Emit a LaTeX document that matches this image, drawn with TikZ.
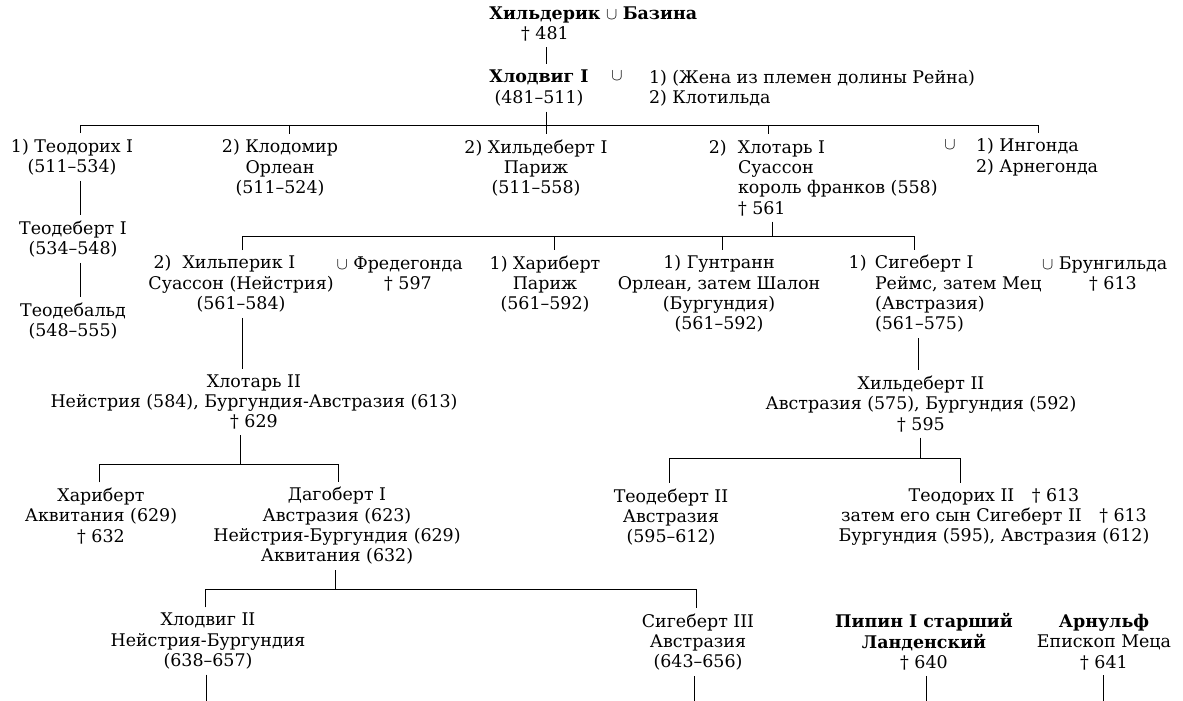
\documentclass[tikz,border=0pt]{standalone}
\usepackage{fontspec}
\setmainfont{DejaVu Serif}

\begin{document}
\begin{tikzpicture}[x=0.025cm,y=-0.025cm,
  every node/.style={font=\fontsize{12.4}{14.5}\selectfont,inner sep=0pt,outer xsep=0pt,outer ysep=4pt},
  person/.style={align=center},
  family/.style={align=left,anchor=west},
  link/.style={line width=0.7pt}]

\useasboundingbox (0,0) rectangle (1183,701);

% Хильдерик, Хлодвиг I
\node[person] (childeric) at (545,24) {\textbf{Хильдерик}\\† 481};
\node[anchor=west] (basina) at (606,13) {$\cup$ \textbf{Базина}};
\node[person] (clovis1) at (539,88) {\textbf{Хлодвиг I}\\(481–511)};
\node (u1) at (617,76) {$\cup$};
\node[family] (wives1) at (649,88) {1) (Жена из племен долины Рейна)\\2) Клотильда};

% сыновья Хлодвига I
\node[person] (theuderic1) at (72,157) {1) Теодорих I\\(511–534)};
\node[person] (chlodomer) at (280,168) {2) Клодомир\\Орлеан\\(511–524)};
\node[person] (childebert1) at (536,168) {2) Хильдеберт I\\Париж\\(511–558)};
\node[family] (chlothar1) at (738,178) {\llap{2)\hspace{8pt}}Хлотарь I\\Суассон\\король франков (558)\\† 561};
\node (u2) at (950,145) {$\cup$};
\node[family] (wives2) at (976,157) {1) Ингонда\\2) Арнегонда};

\node[person] (theudebert1) at (73,239) {Теодеберт I\\(534–548)};
\node[person] (theudebald) at (73,321) {Теодебальд\\(548–555)};

% сыновья Хлотаря I
\node[person] (chilperic) at (241,284) {2)\ \ Хильперик I\hphantom{000}\\Суассон (Нейстрия)\\(561–584)};
\node[person] (fredegund) at (408,274) {\llap{$\cup$\ }Фредегонда\\† 597};
\node[person] (charibert) at (545,284) {1) Хариберт\\Париж\\(561–592)};
\node[person] (guntram) at (719,294) {1) Гунтранн\\Орлеан, затем Шалон\\(Бургундия)\\(561–592)};
\node[family] (sigebert1) at (875,294) {\llap{1)\hspace{6pt}}Сигеберт I\\Реймс, затем Мец\\(Австразия)\\(561–575)};
\node[person] (brunhild) at (1113,274) {\llap{$\cup$\ }Брунгильда\\† 613};

% внуки
\node[person] (chlothar2) at (254,402) {Хлотарь II\\Нейстрия (584), Бургундия-Австразия (613)\\† 629};
\node[person] (childebert2) at (921,404) {Хильдеберт II\\Австразия (575), Бургундия (592)\\† 595};

\node[person] (charibert2) at (101,516) {Хариберт\\Аквитания (629)\\† 632};
\node[person] (dagobert) at (337,526) {Дагоберт I\\Австразия (623)\\Нейстрия-Бургундия (629)\\Аквитания (632)};
\node[person] (theudebert2) at (671,517) {Теодеберт II\\Австразия\\(595–612)};
\node[person] (theuderic2) at (994,517) {Теодорих II\quad † 613\\затем его сын Сигеберт II\quad † 613\\Бургундия (595), Австразия (612)};

\node[person] (clovis2) at (208,641) {Хлодвиг II\\Нейстрия-Бургундия\\(638–657)};
\node[person] (sigebert3) at (698,642) {Сигеберт III\\Австразия\\(643–656)};
\node[person] (pippin) at (924,642) {\textbf{Пипин I старший}\\\textbf{Ланденский}\\† 640};
\node[person] (arnulf) at (1104,642) {\textbf{Арнульф}\\Епископ Меца\\† 641};

% линии
\coordinate (j1) at (546,125);
\coordinate (b1a) at (80,125);
\coordinate (b1b) at (1038,125);
\coordinate (k1a) at (289,125);
\coordinate (k1b) at (768,125);
\draw[link] (childeric.south -| j1) -- (clovis1.north -| j1);
\draw[link] (clovis1.south -| j1) -- (childebert1.north -| j1);
\draw[link] (theuderic1.north -| b1a) -- (b1a) -- (b1b) -- (wives2.north -| b1b);
\draw[link] (k1a) -- (chlodomer.north -| k1a);
\draw[link] (k1b) -- (chlothar1.north -| k1b);
\draw[link] (theuderic1.south -| b1a) -- (theudebert1.north -| b1a);
\draw[link] (theudebert1.south -| b1a) -- (theudebald.north -| b1a);

\coordinate (j2) at (772,236);
\coordinate (b2a) at (242,236);
\coordinate (b2b) at (914,236);
\coordinate (k2a) at (554,236);
\coordinate (k2b) at (722,236);
\coordinate (s1) at (918,350);
\draw[link] (chlothar1.south -| j2) -- (j2);
\draw[link] (chilperic.north -| b2a) -- (b2a) -- (b2b) -- (sigebert1.north -| b2b);
\draw[link] (k2a) -- (charibert.north -| k2a);
\draw[link] (k2b) -- (guntram.north -| k2b);
\draw[link] (chilperic.south -| b2a) -- (chlothar2.north -| b2a);
\draw[link] (sigebert1.south -| s1) -- (childebert2.north -| s1);

\coordinate (j3) at (240,464);
\coordinate (b3a) at (99,464);
\coordinate (b3b) at (338,464);
\draw[link] (chlothar2.south -| j3) -- (j3);
\draw[link] (charibert2.north -| b3a) -- (b3a) -- (b3b) -- (dagobert.north -| b3b);

\coordinate (j4) at (920,458);
\coordinate (b4a) at (669,458);
\coordinate (b4b) at (960,458);
\draw[link] (childebert2.south -| j4) -- (j4);
\draw[link] (theudebert2.north -| b4a) -- (b4a) -- (b4b) -- (theuderic2.north -| b4b);

\coordinate (j5) at (335,589);
\coordinate (b5a) at (205,589);
\coordinate (b5b) at (696,589);
\draw[link] (dagobert.south -| j5) -- (j5);
\draw[link] (clovis2.north -| b5a) -- (b5a) -- (b5b) -- (sigebert3.north -| b5b);

% к нижнему краю
\coordinate (e1) at (206,701);
\coordinate (e2) at (694,701);
\coordinate (e3) at (926,701);
\coordinate (e4) at (1103,701);
\draw[link] (clovis2.south -| e1) -- (e1);
\draw[link] (sigebert3.south -| e2) -- (e2);
\draw[link] (pippin.south -| e3) -- (e3);
\draw[link] (arnulf.south -| e4) -- (e4);

\end{tikzpicture}
\end{document}
